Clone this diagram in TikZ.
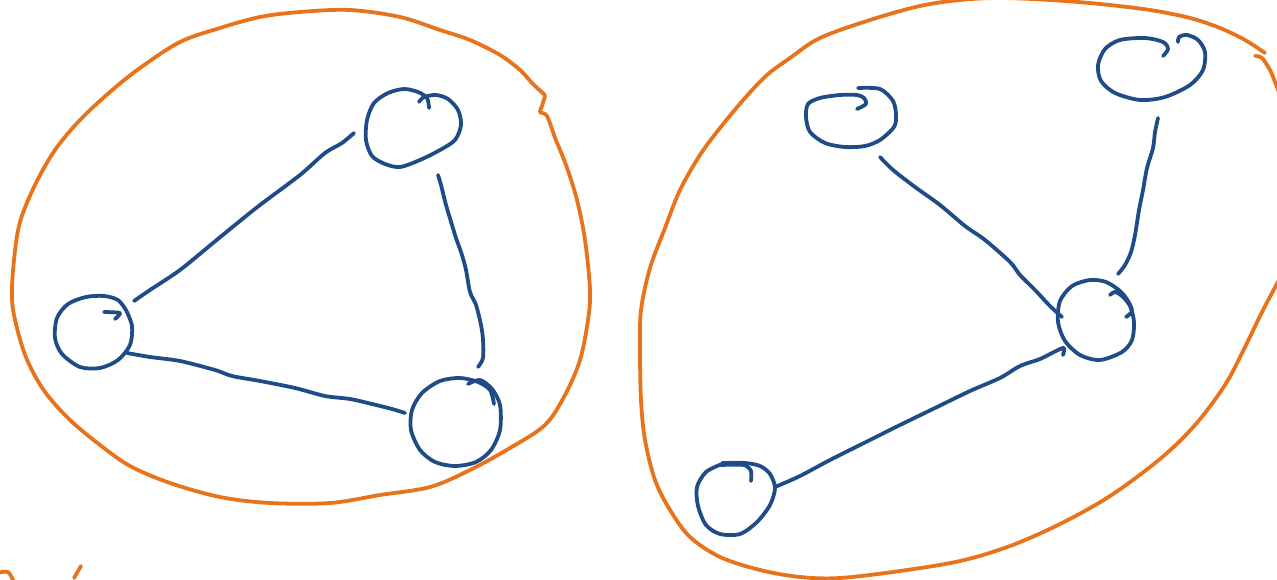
\documentclass[tikz,border=0pt]{standalone}
\definecolor{inkorange}{HTML}{E8731A}
\definecolor{inkblue}{HTML}{1F4C86}
\tikzset{
  pen/.style={line width=2.15pt, line cap=round, line join=round},
  blob/.style={pen, draw=inkorange},
  vert/.style={pen, draw=inkblue},
  link/.style={pen, draw=inkblue},
}
\begin{document}
\begin{tikzpicture}[x=0.02cm,y=-0.02cm]
\useasboundingbox (0,0) rectangle (1277,580);
\begin{scope}
\clip (0,0) rectangle (1277,580);
% ---------- left blob ----------
\draw[blob] plot[smooth, tension=0.55] coordinates {
 (545,95) (533,84) (520,70) (500,55) (470,40) (440,30) (400,17) (350,10) (300,12)
 (260,17) (220,28) (180,42) (140,68) (110,92) (80,120) (55,150) (35,185) (20,222)
 (14,260) (12,300) (18,332) (28,362) (45,392) (70,420) (100,445) (130,466) (170,483)
 (220,497) (270,503) (330,503) (380,495) (430,487) (470,470) (510,448) (545,425)
 (565,395) (580,360) (588,320) (590,290) (585,240) (577,200) (566,165) (555,138)};
\draw[blob] plot[smooth, tension=0.5] coordinates {(555,138) (547,116) (540,112) (542,106) (545,96)};
% ---------- right blob ----------
\draw[blob] plot[smooth, tension=0.55] coordinates {
 (1265,53) (1245,40) (1220,28) (1190,18) (1150,10) (1100,4) (1050,0) (1000,-2) (960,0)
 (920,6) (870,20) (820,38) (790,58) (767,75) (745,98) (720,128) (700,155) (680,190)
 (665,228) (650,268) (641,310) (640,350) (641,400) (645,440) (655,480) (670,510)
 (690,537) (720,557) (760,570) (800,577) (840,578) (900,571) (960,561) (1010,546)
 (1060,524) (1110,496) (1160,459) (1195,425) (1225,385) (1245,347) (1262,312) (1280,278)};
\draw[blob] plot[smooth, tension=0.5] coordinates {(1255,56) (1262,58) (1270,70) (1275,82) (1280,95)};
% ---------- corner marks ----------
\draw[blob] plot[smooth] coordinates {(-2,573) (8,572) (14,582)};
\draw[blob] (74,578) -- (81,566);
\end{scope}

% ---------- vertices, left graph ----------
\coordinate (A) at (412,128);
\coordinate (B) at (94,332);
\coordinate (C) at (455,422);
\draw[vert] plot[smooth, tension=0.5] coordinates {
 (429,108) (427,98) (418,92) (404,89) (388,93) (374,103) (367,120) (366,140) (372,156)
 (385,164) (400,167) (420,160) (440,150) (455,140) (461,125) (458,110) (448,99)
 (436,95) (424,97) (419,102)};
\draw[vert] plot[smooth, tension=0.5] coordinates {
 (126,310) (118,300) (104,296) (86,297) (68,304) (57,318) (55,338) (62,354) (80,367)
 (100,368) (118,360) (130,345) (132,326) (126,310)};
\draw[vert] plot[smooth, tension=0.4] coordinates {(104,312) (120,313) (115,319)};
\draw[vert] plot[smooth, tension=0.5] coordinates {
 (468,384) (480,380) (492,389) (500,405) (500,430) (491,450) (476,462) (455,466) (435,462)
 (420,450) (411,430) (412,410) (422,393) (440,381) (460,378) (478,382) (490,390) (494,404)};

% ---------- vertices, right graph ----------
\coordinate (D) at (850,118);
\coordinate (E) at (1150,68);
\coordinate (F) at (1096,320);
\coordinate (G) at (735,498);
\draw[vert] plot[smooth, tension=0.5] coordinates {
 (858,88) (880,89) (893,101) (896,115) (894,127) (880,140) (865,146) (845,147) (825,143)
 (810,132) (806,117) (808,104) (820,98) (840,95) (857,95) (864,98) (866,104) (857,109)};
\draw[vert] plot[smooth, tension=0.5] coordinates {
 (1163,56) (1168,49) (1163,42) (1145,38) (1120,40) (1105,49) (1098,65) (1101,81) (1115,93)
 (1140,100) (1165,97) (1190,85) (1203,70) (1205,52) (1198,40) (1187,35) (1179,37) (1178,42)};
\draw[vert] plot[smooth, tension=0.5] coordinates {
 (1110,295) (1115,292) (1122,296) (1130,306) (1134,322) (1132,340) (1122,352) (1100,360)
 (1080,355) (1065,341) (1058,322) (1060,301) (1072,286) (1090,280) (1106,282) (1120,291)
 (1128,301) (1132,311) (1126,317)};
\draw[vert] plot[smooth, tension=0.5] coordinates {
 (722,464) (706,472) (697,487) (698,506) (706,525) (720,534) (740,534) (757,522) (770,505)
 (775,488) (770,474) (760,466) (745,463) (722,463)};
\draw[vert] plot[smooth, tension=0.4] coordinates {(720,465) (744,465) (751,471) (751,481)};

% ---------- connectors ----------
\coordinate (BA1) at (134,301); \coordinate (BA2) at (354,133);
\draw[link] plot[smooth, tension=0.5] coordinates {
 (BA1) (150,290) (180,270) (213,243) (235,225) (260,205) (300,175) (325,153) (342,143) (BA2)};
\coordinate (AC1) at (438,175); \coordinate (AC2) at (478,367);
\draw[link] plot[smooth, tension=0.5] coordinates {
 (AC1) (441,185) (446,205) (452,225) (456,238) (462,255) (466,270) (470,292) (476,305)
 (481,325) (483,340) (483,358) (AC2)};
\coordinate (BC1) at (127,353); \coordinate (BC2) at (405,413);
\draw[link] plot[smooth, tension=0.5] coordinates {
 (BC1) (150,357) (180,361) (215,370) (232,376) (260,381) (295,388) (325,396) (350,399)
 (372,404) (392,409) (BC2)};
\coordinate (DF1) at (880,157); \coordinate (DF2) at (1062,317);
\draw[link] plot[smooth, tension=0.5] coordinates {
 (DF1) (893,170) (915,187) (940,205) (965,226) (985,240) (1010,262) (1020,275) (1035,290)
 (1050,306) (DF2)};
\coordinate (EF1) at (1158,118); \coordinate (EF2) at (1118,274);
\draw[link] plot[smooth, tension=0.5] coordinates {
 (EF1) (1155,132) (1153,148) (1147,168) (1143,190) (1139,210) (1135,235) (1131,252)
 (1125,265) (EF2)};
\coordinate (GF1) at (775,487); \coordinate (GF2) at (1064,348);
\draw[link] plot[smooth, tension=0.5] coordinates {
 (GF1) (800,476) (830,460) (870,440) (900,425) (935,408) (970,391) (1000,378) (1020,366)
 (1040,359) (1056,351) (GF2) (1063,355)};
\end{tikzpicture}
\end{document}
